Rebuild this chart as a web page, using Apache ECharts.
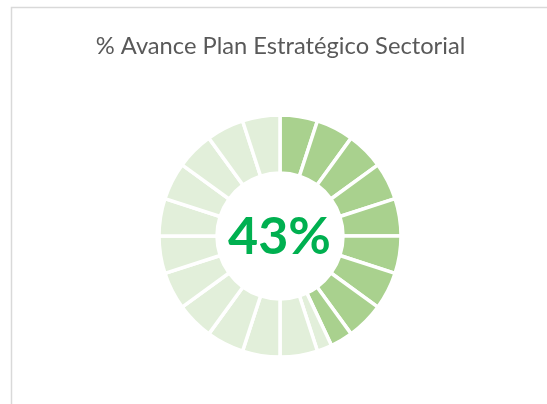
<!DOCTYPE html>
<html>
<head>
<meta charset="utf-8">
<script src="https://cdn.jsdelivr.net/npm/echarts@6/dist/echarts.min.js"></script>
<style>
html,body{margin:0;padding:0;background:#fff;}
#c{width:547px;height:404px;}
</style>
</head>
<body>
<div id="c"></div>
<script>
// Data
const titleText = '% Avance Plan Estratégico Sectorial';
const centerLabel = '43%';
// Ring segments (percent of circle), clockwise from 12 o'clock
const segmentValues = [5, 5, 5, 5, 5, 5, 5, 5, 3, 2, 5, 5, 5, 5, 5, 5, 5, 5, 5, 5, 5];
// 1 = completed, 0 = remaining
const segmentDone   = [1, 1, 1, 1, 1, 1, 1, 1, 1, 0, 0, 0, 0, 0, 0, 0, 0, 0, 0, 0, 0];

const doneColor = '#A9D18E';
const restColor = '#E2EFDA';

const chart = echarts.init(document.getElementById('c'), null, {renderer: 'canvas'});
chart.setOption({
  backgroundColor: '#ffffff',
  animation: false,
  title: [{
    text: titleText,
    left: 275.5, top: 29, textAlign: 'center',
    textStyle: {fontFamily: 'Lato', fontSize: 23.7, fontWeight: 'normal', color: '#595959'}
  }, {
    text: centerLabel,
    left: 274.5, top: 206, textAlign: 'center',
    textStyle: {fontFamily: 'Lato', fontSize: 52, fontWeight: 'bold', color: '#00B050'}
  }],
  graphic: [{
    type: 'rect', silent: true,
    shape: {x: 11.5, y: 7.5, width: 600, height: 500},
    style: {fill: 'none', stroke: '#D9D9D9', lineWidth: 1.5}
  }],
  series: [{
    type: 'pie',
    center: [280, 236],
    radius: [63, 121],
    startAngle: 90,
    clockwise: true,
    avoidLabelOverlap: false,
    label: {show: false},
    labelLine: {show: false},
    emphasis: {disabled: true},
    itemStyle: {borderColor: '#ffffff', borderWidth: 3.5},
    data: segmentValues.map((v, i) => ({
      value: v,
      itemStyle: {color: segmentDone[i] ? doneColor : restColor}
    }))
  }]
});
</script>
</body>
</html>
